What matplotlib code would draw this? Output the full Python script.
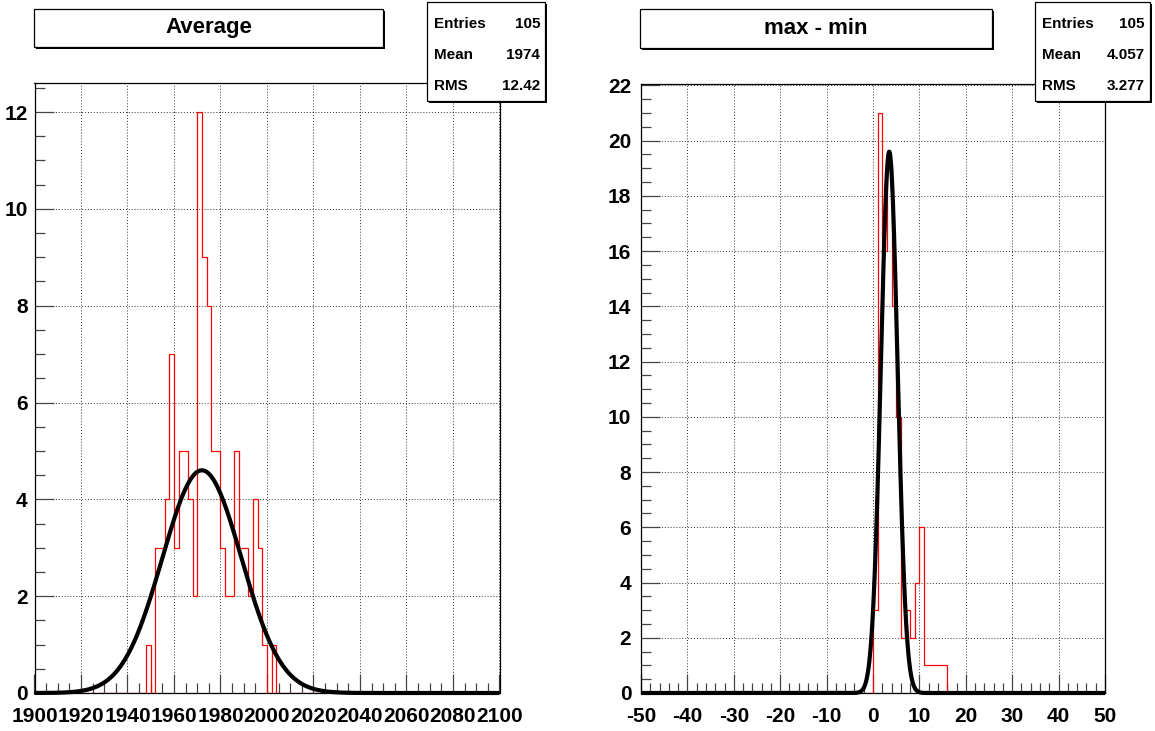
import numpy as np
import matplotlib.pyplot as plt
from matplotlib.patches import Rectangle
from matplotlib.ticker import MultipleLocator

plt.rcParams['font.family'] = ['Liberation Sans', 'DejaVu Sans']
plt.rcParams['font.weight'] = 'bold'
plt.rcParams['axes.unicode_minus'] = False

W, H = 1155, 731

# --- "Average" histogram: 100 bins of width 2 over 1900..2100
avg_range = (1900, 2100)
avg_nbins = 100
avg_first_bin = 1948
avg_counts = [1, 0, 3, 3, 4, 7, 3, 5, 5, 4, 2, 12, 9, 8, 5, 5, 3, 2, 2, 5,
              3, 3, 2, 4, 3, 1, 0, 1]
avg_fit = (4.6, 1972.0, 17.0)   # constant, mean, sigma
avg_stats = [("Entries", "105"), ("Mean", "1974"), ("RMS", "12.42")]

# --- "max - min" histogram: 100 bins of width 1 over -50..50
rng_range = (-50, 50)
rng_nbins = 100
rng_first_bin = 0
rng_counts = [3, 21, 16, 19, 14, 10, 2, 3, 2, 4, 6, 1, 1, 1, 1, 1]
rng_fit = (19.6, 3.5, 1.8)
rng_stats = [("Entries", "105"), ("Mean", "4.057"), ("RMS", "3.277")]


def full_hist(rng, nbins, first, counts):
    edges = np.linspace(rng[0], rng[1], nbins + 1)
    width = (rng[1] - rng[0]) / nbins
    h = np.zeros(nbins)
    i0 = int(round((first - rng[0]) / width))
    h[i0:i0 + len(counts)] = counts
    return edges, h


def gaus(x, p):
    return p[0] * np.exp(-0.5 * ((x - p[1]) / p[2]) ** 2)


def fr(x0, y0, x1, y1):
    # pixel box (top-left origin) -> figure fraction rect
    return [x0 / W, 1 - y1 / H, (x1 - x0) / W, (y1 - y0) / H]


def pave(fig, box, shadow=True):
    l, b, w, h = fr(*box)
    if shadow:
        fig.add_artist(Rectangle((l + 2 / W, b - 2 / H), w, h, transform=fig.transFigure,
                                 facecolor='black', edgecolor='black', lw=0, zorder=9))
    fig.add_artist(Rectangle((l, b), w, h, transform=fig.transFigure,
                             facecolor='white', edgecolor='black', lw=0.9, zorder=10))


def draw_panel(fig, rect, rng, nbins, first, counts, fit, ymax, xmaj, xmin, ymaj, ymin, ypad):
    ax = fig.add_axes(fr(*rect))
    edges, h = full_hist(rng, nbins, first, counts)
    ax.stairs(h, edges, color='red', lw=0.9, zorder=3)
    xs = np.linspace(rng[0], rng[1], 2000)
    ax.plot(xs, gaus(xs, fit), color='black', lw=3, zorder=4, clip_on=False,
            solid_capstyle='butt')
    ax.set_xlim(*rng)
    ax.set_ylim(0, ymax)
    ax.xaxis.set_major_locator(MultipleLocator(xmaj))
    ax.xaxis.set_minor_locator(MultipleLocator(xmin))
    ax.yaxis.set_major_locator(MultipleLocator(ymaj))
    ax.yaxis.set_minor_locator(MultipleLocator(ymin))
    ax.tick_params(which='major', direction='in', length=14, width=0.9,
                   labelsize=15, color='#444444')
    ax.tick_params(which='minor', direction='in', length=7, width=0.9, color='#444444')
    ax.tick_params(axis='x', which='major', pad=10)
    ax.tick_params(axis='y', which='major', pad=ypad)
    ax.grid(True, which='major', linestyle=(0, (1, 2)), color='#333333', lw=0.7)
    ax.set_axisbelow(True)
    for s in ax.spines.values():
        s.set_linewidth(0.9)
    return ax


def stats_box(fig, box, rows):
    pave(fig, box, shadow=True)
    x0, y0, x1, y1 = box
    for i, (k, v) in enumerate(rows):
        yc = y0 + 22 + 31 * i
        fig.text((x0 + 7) / W, 1 - yc / H, k, ha='left', va='center',
                 fontsize=11, zorder=11)
        fig.text((x1 - 5) / W, 1 - yc / H, v, ha='right', va='center',
                 fontsize=11, zorder=11)


def title_box(fig, box, text):
    pave(fig, box, shadow=True)
    x0, y0, x1, y1 = box
    fig.text((x0 + x1) / 2 / W, 1 - (y0 + y1) / 2 / H, text, ha='center',
             va='center', fontsize=16, zorder=11)


fig = plt.figure(figsize=(W / 100, H / 100), dpi=100)

draw_panel(fig, (34.5, 83, 499.5, 693), avg_range, avg_nbins, avg_first_bin,
           avg_counts, avg_fit, 12 * 1.05, 20, 5, 2, 0.5, 5)
draw_panel(fig, (641, 84, 1105, 693), rng_range, rng_nbins, rng_first_bin,
           rng_counts, rng_fit, 21 * 1.05, 10, 2, 2, 0.5, 7)

title_box(fig, (34, 9, 383, 47), "Average")
title_box(fig, (640, 9, 992, 48), "max - min")
stats_box(fig, (427, 2, 545, 101), avg_stats)
stats_box(fig, (1035, 2, 1150, 101), rng_stats)

fig.savefig("out.png", dpi=100, facecolor='white')
